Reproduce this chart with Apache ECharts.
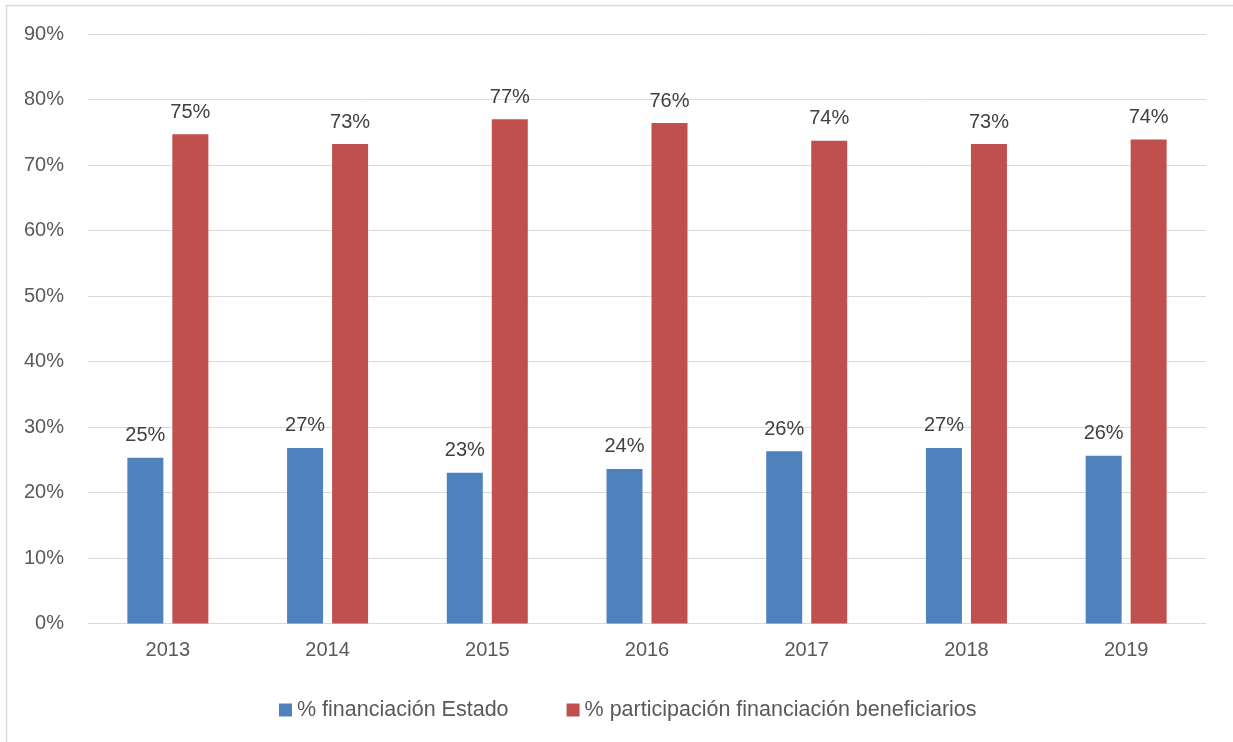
<!DOCTYPE html>
<html>
<head>
<meta charset="utf-8">
<script src="https://cdn.jsdelivr.net/npm/echarts@6/dist/echarts.min.js"></script>
<style>
html,body{margin:0;padding:0;background:#fff;}
#chart{width:1233px;height:742px;}
</style>
</head>
<body>
<div id="chart"></div>
<script>
const categories = ['2013', '2014', '2015', '2016', '2017', '2018', '2019'];
const seriesNames = ['% financiación Estado', '% participación financiación beneficiarios'];
const estado = [25.3, 26.8, 23.0, 23.6, 26.3, 26.8, 25.6];
const beneficiarios = [74.7, 73.2, 77.0, 76.4, 73.7, 73.2, 73.9];
const yTicks = { min: 0, max: 90, interval: 10 };

const FONT = "'Liberation Sans', Arial, sans-serif";
const chart = echarts.init(document.getElementById('chart'), null, { renderer: 'canvas' });

const labelOpt = {
  show: true,
  position: 'top',
  distance: 12,
  color: '#404040',
  fontSize: 20,
  fontFamily: FONT,
  formatter: p => Math.round(p.value) + '%'
};

chart.setOption({
  animation: false,
  backgroundColor: '#ffffff',
  graphic: [{
    type: 'rect',
    shape: { x: 6.5, y: 5.5, width: 1260, height: 760 },
    style: { fill: 'none', stroke: '#D9D9D9', lineWidth: 1.5 },
    silent: true,
    z: -1
  }],
  grid: { left: 88, right: 27, top: 34, height: 589.5, containLabel: false },
  legend: {
    data: seriesNames,
    left: 274,
    top: 694,
    itemWidth: 13,
    itemHeight: 13,
    itemGap: 58,
    icon: 'rect',
    textStyle: { color: '#595959', fontSize: 21.5, fontFamily: FONT }
  },
  xAxis: {
    type: 'category',
    data: categories,
    axisLine: { show: true, lineStyle: { color: '#D9D9D9', width: 1 } },
    axisTick: { show: false },
    axisLabel: { color: '#595959', fontSize: 20, fontFamily: FONT, margin: 17 },
    splitLine: { show: false }
  },
  yAxis: {
    type: 'value',
    min: yTicks.min,
    max: yTicks.max,
    interval: yTicks.interval,
    axisLine: { show: false },
    axisTick: { show: false },
    axisLabel: { color: '#595959', fontSize: 20, fontFamily: FONT, margin: 24, formatter: '{value}%' },
    splitLine: { lineStyle: { color: '#D9D9D9', width: 1 } }
  },
  series: [
    {
      name: seriesNames[0],
      type: 'bar',
      data: estado,
      barWidth: 36,
      barGap: '25%',
      itemStyle: { color: '#4F81BD' },
      label: labelOpt
    },
    {
      name: seriesNames[1],
      type: 'bar',
      data: beneficiarios,
      barWidth: 36,
      barGap: '25%',
      itemStyle: { color: '#C0504D' },
      label: labelOpt
    }
  ]
});
</script>
</body>
</html>
